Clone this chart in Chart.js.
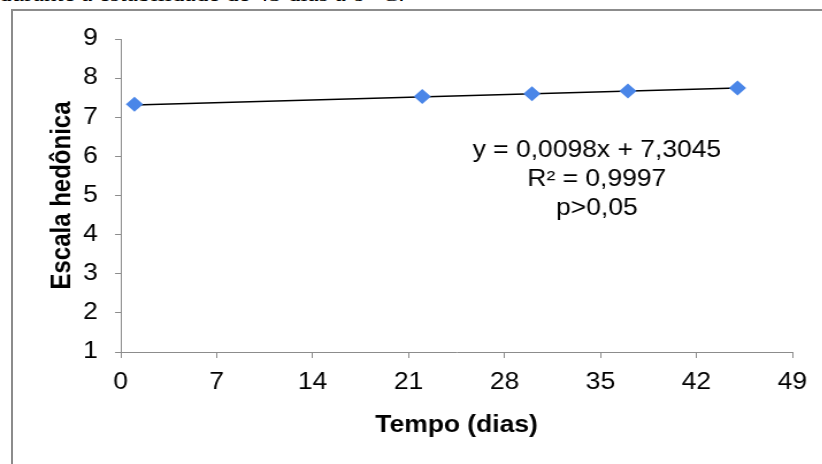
<!DOCTYPE html>
<html>
<head>
<meta charset="utf-8">
<script src="https://cdn.jsdelivr.net/npm/chart.js@4/dist/chart.umd.min.js"></script>
<style>
  html, body { margin: 0; padding: 0; background: #fff; }
  #wrap { position: relative; width: 822px; height: 464px; overflow: hidden; }
  #caption { position: absolute; left: -1px; top: -19px; font: 22px "Liberation Serif", serif; color: #000; white-space: nowrap; transform: scaleX(1.15); transform-origin: 0 0; }
  #frame { position: absolute; left: 11px; top: 9px; width: 830px; height: 470px; border-left: 2px solid #8c8c8c; border-top: 2px solid #8c8c8c; }
  /* the source picture is stretched sideways, so the canvas is too */
  #chart { position: absolute; left: 0; top: 0; transform: scaleX(1.15); transform-origin: 0 0; }
</style>
</head>
<body>
<div id="wrap">
  <div id="caption">durante a estabilidade de 45 dias a 8 °C.</div>
  <div id="frame"></div>
  <canvas id="chart" width="715" height="464"></canvas>
</div>
<script>
const days = [1, 22, 30, 37, 45];
const scores = [7.33, 7.53, 7.60, 7.67, 7.75];
const trendDays = [1, 45];
const trendScores = [7.314, 7.746];
const annotationLines = ['y = 0,0098x + 7,3045', 'R² = 0,9997', 'p>0,05'];

document.addEventListener('DOMContentLoaded', () => {
    const ctx = document.getElementById('chart').getContext('2d');
    const axisGray = '#8c8c8c';
    const fontFamily = '"Liberation Sans", Arial, sans-serif';

    // regression text drawn inside the plot
    const annotationPlugin = {
        id: 'annotation',
        afterDatasetsDraw(chart) {
            const c = chart.ctx;
            c.save();
            c.font = '23px ' + fontFamily;
            c.fillStyle = '#000';
            c.textAlign = 'center';
            c.textBaseline = 'middle';
            annotationLines.forEach((line, i) => {
                c.fillText(line, 519, 151 + i * 29);
            });
            c.restore();
        }
    };

    new Chart(ctx, {
        type: 'scatter',
        data: {
            datasets: [
                {
                    label: 'Tendência',
                    data: trendDays.map((d, i) => ({ x: d, y: trendScores[i] })),
                    showLine: true,
                    borderColor: '#000',
                    borderWidth: 1.4,
                    pointRadius: 0,
                    order: 2
                },
                {
                    label: 'Escala hedônica',
                    data: days.map((d, i) => ({ x: d, y: scores[i] })),
                    pointStyle: 'rectRot',
                    pointRadius: 7.5,
                    backgroundColor: '#4a86e8',
                    borderColor: '#4a86e8',
                    borderWidth: 0,
                    order: 1
                }
            ]
        },
        options: {
            responsive: false,
            animation: false,
            devicePixelRatio: 1,
            layout: { padding: { left: 0, top: 39, right: 26, bottom: 0 } },
            plugins: { legend: { display: false }, tooltip: { enabled: false } },
            scales: {
                x: {
                    type: 'linear',
                    min: 0,
                    max: 49,
                    afterFit: (s) => { s.height = 112; },
                    ticks: {
                        stepSize: 7,
                        color: '#000',
                        padding: 11,
                        font: { family: fontFamily, size: 23 }
                    },
                    grid: { drawOnChartArea: false, drawTicks: true, tickLength: 6, tickColor: axisGray },
                    border: { color: axisGray, width: 1 },
                    title: {
                        display: true,
                        text: 'Tempo (dias)',
                        color: '#000',
                        font: { family: fontFamily, size: 23, weight: 'bold' },
                        padding: { top: 0, bottom: 25 }
                    }
                },
                y: {
                    min: 1,
                    max: 9,
                    afterFit: (s) => { s.width = 105; },
                    ticks: {
                        stepSize: 1,
                        color: '#000',
                        padding: 15,
                        font: { family: fontFamily, size: 23 }
                    },
                    grid: { drawOnChartArea: false, drawTicks: true, tickLength: 5, tickColor: axisGray },
                    border: { color: axisGray, width: 1 },
                    title: {
                        display: true,
                        text: 'Escala hedônica',
                        color: '#000',
                        font: { family: fontFamily, size: 24, weight: 'bold' },
                        padding: { top: 40, bottom: 0 }
                    }
                }
            }
        },
        plugins: [annotationPlugin]
    });
});
</script>
</body>
</html>
